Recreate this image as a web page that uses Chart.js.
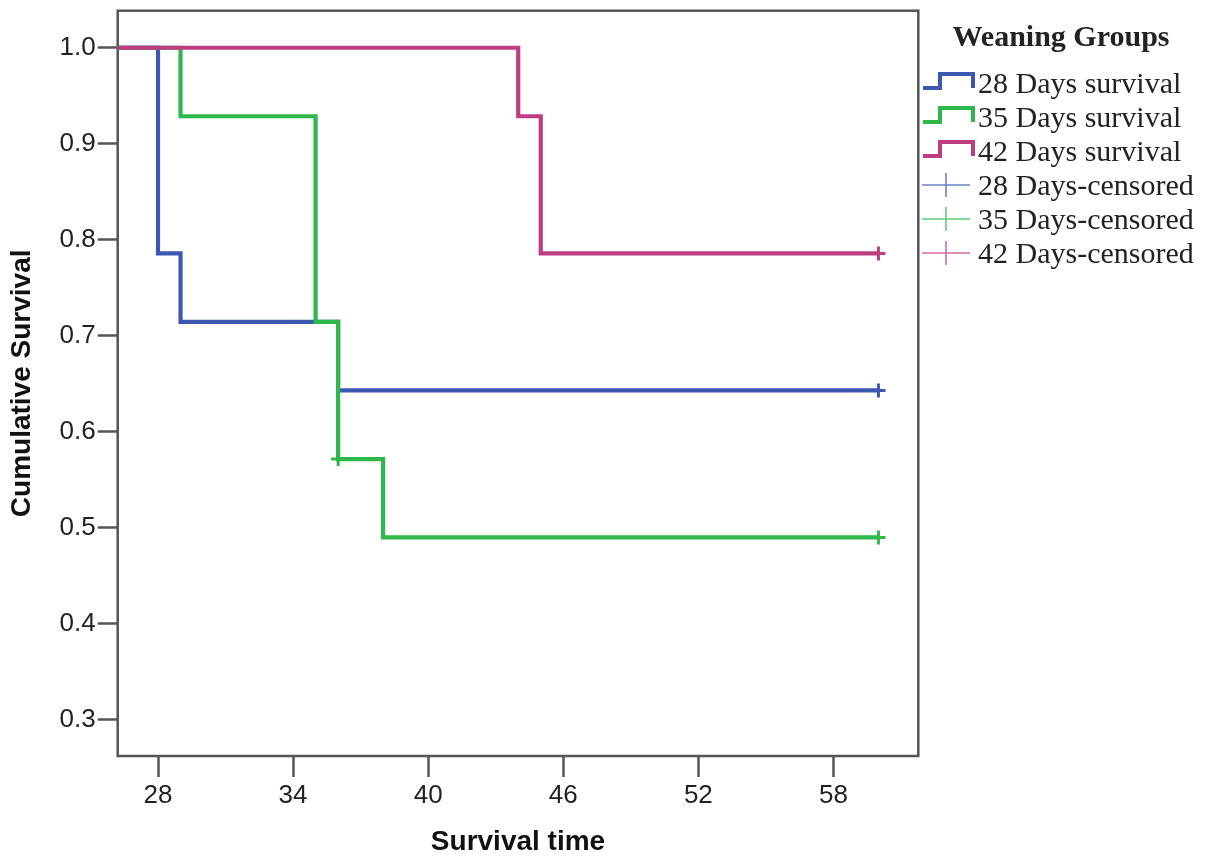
<!DOCTYPE html>
<html><head><meta charset="utf-8">
<script src="https://cdn.jsdelivr.net/npm/chart.js@4.4.1/dist/chart.umd.min.js"></script>
<style>html,body{margin:0;padding:0;background:#fff}#wrap{width:1217px;height:859px;position:relative}canvas{display:block}</style>
</head><body><div id="wrap"><canvas id="c" width="1217" height="859"></canvas></div>
<script>
// ---- data ----
const legendTitle = 'Weaning Groups';
const survivalLabels = ['28 Days survival', '35 Days survival', '42 Days survival'];
const censoredLabels = ['28 Days-censored', '35 Days-censored', '42 Days-censored'];
const times28 = [0, 28, 29, 36, 60];
const surv28 = [1.0, 0.7857, 0.7143, 0.6429, 0.6429];
const times35 = [0, 29, 35, 36, 38, 60];
const surv35 = [1.0, 0.9286, 0.7143, 0.5714, 0.4898, 0.4898];
const times42 = [0, 44, 45, 60];
const surv42 = [1.0, 0.9286, 0.7857, 0.7857];
const censTimes28 = [60];
const censSurv28 = [0.6429];
const censTimes35 = [36, 60];
const censSurv35 = [0.5714, 0.4898];
const censTimes42 = [60];
const censSurv42 = [0.7857];
const xTicks = [28, 34, 40, 46, 52, 58];
const yTicks = [0.3, 0.4, 0.5, 0.6, 0.7, 0.8, 0.9, 1.0];
const xTitle = 'Survival time';
const yTitle = 'Cumulative Survival';

// ---- styles ----
const colors = ['#3E58B2', '#2EB84C', '#BE3C80'];
const censColors = ['rgba(62,88,178,0.75)', 'rgba(46,184,76,0.75)', 'rgba(190,60,128,0.75)'];
const frameColor = '#555555';
const textColor = '#222222';

const pts = (xs, ys) => xs.map((x, i) => ({x: x, y: ys[i]}));

const survSets = [[times28, surv28], [times35, surv35], [times42, surv42]];
const censSets = [[censTimes28, censSurv28], [censTimes35, censSurv35], [censTimes42, censSurv42]];

const datasets = [];
survSets.forEach((s, i) => {
  datasets.push({
    label: survivalLabels[i], data: pts(s[0], s[1]), showLine: true, stepped: true,
    borderColor: colors[i], backgroundColor: colors[i], borderWidth: 4.2, pointRadius: 0,
    fill: false, clip: 0, order: 3 - i, borderJoinStyle: 'miter', borderCapStyle: 'butt'
  });
});
censSets.forEach((s, i) => {
  datasets.push({
    label: censoredLabels[i], data: pts(s[0], s[1]), showLine: false,
    pointStyle: 'cross', pointRadius: 7, pointBorderWidth: 3, pointHoverRadius: 7,
    borderColor: colors[i], backgroundColor: colors[i], order: 0
  });
});

const PLOT = {left: 117.7, right: 918.3, top: 10.7, bottom: 756};

const framePlugin = {
  id: 'frame',
  beforeDatasetsDraw(chart) {
    const a = chart.chartArea, ctx = chart.ctx;
    ctx.save();
    ctx.strokeStyle = frameColor; ctx.lineWidth = 2.5;
    ctx.strokeRect(a.left, a.top, a.right - a.left, a.bottom - a.top);
    ctx.restore();
  }
};

const legendPlugin = {
  id: 'customLegend',
  afterDraw(chart) {
    const ctx = chart.ctx;
    ctx.save();
    ctx.fillStyle = textColor;
    ctx.textBaseline = 'alphabetic';
    ctx.font = 'bold 30px "Liberation Serif", "Times New Roman", serif';
    ctx.textAlign = 'center';
    ctx.fillText(legendTitle, 1061, 46);
    ctx.textAlign = 'left';
    ctx.font = '30px "Liberation Serif", "Times New Roman", serif';
    const rowY = [83, 117, 151, 185, 219, 253];
    for (let i = 0; i < 3; i++) {
      const y = rowY[i];
      ctx.strokeStyle = colors[i]; ctx.lineWidth = 4; ctx.lineJoin = 'miter';
      ctx.beginPath();
      ctx.moveTo(923, y + 5); ctx.lineTo(940, y + 5); ctx.lineTo(940, y - 9);
      ctx.lineTo(973, y - 9); ctx.lineTo(973, y + 5);
      ctx.stroke();
      ctx.fillText(survivalLabels[i], 978, y + 10);
    }
    for (let i = 0; i < 3; i++) {
      const y = rowY[i + 3];
      ctx.strokeStyle = censColors[i]; ctx.lineWidth = 1.6;
      ctx.beginPath();
      ctx.moveTo(922, y); ctx.lineTo(970, y);
      ctx.moveTo(946, y - 12); ctx.lineTo(946, y + 12);
      ctx.stroke();
      ctx.fillText(censoredLabels[i], 978, y + 10);
    }
    ctx.restore();
  }
};

new Chart(document.getElementById('c'), {
  type: 'scatter',
  data: {datasets: datasets},
  options: {
    responsive: false, animation: false, devicePixelRatio: 1,
    layout: {padding: {top: PLOT.top, right: 1217 - PLOT.right, left: 0, bottom: 0}},
    plugins: {legend: {display: false}, tooltip: {enabled: false}},
    scales: {
      x: {
        type: 'linear', min: 26.21, max: 61.77,
        afterFit(s) { s.height = 859 - PLOT.bottom; s.paddingLeft = 0; s.paddingRight = 0; },
        afterBuildTicks(s) { s.ticks = xTicks.map(v => ({value: v})); },
        border: {display: false},
        grid: {display: true, drawOnChartArea: false, drawTicks: true, tickLength: 21, tickColor: frameColor, tickWidth: 2.5, color: frameColor},
        ticks: {color: textColor, padding: 3, maxRotation: 0, autoSkip: false,
          font: {family: '"Liberation Sans", Arial, sans-serif', size: 26},
          callback: v => String(v)},
        title: {display: true, text: xTitle, color: '#111', padding: {top: 0, bottom: 0},
          font: {family: '"Liberation Sans", Arial, sans-serif', size: 28, weight: 'bold'}}
      },
      y: {
        type: 'linear', min: 0.262, max: 1.0386,
        afterFit(s) { s.width = PLOT.left; s.paddingTop = 0; s.paddingBottom = 0; },
        afterBuildTicks(s) { s.ticks = yTicks.map(v => ({value: v})); },
        border: {display: false},
        grid: {display: true, drawOnChartArea: false, drawTicks: true, tickLength: 20, tickColor: frameColor, tickWidth: 2.5, color: frameColor},
        ticks: {color: textColor, padding: 2, autoSkip: false,
          font: {family: '"Liberation Sans", Arial, sans-serif', size: 26},
          callback: v => Number(v).toFixed(1)},
        title: {display: true, text: yTitle, color: '#111', padding: {top: 5, bottom: 0},
          font: {family: '"Liberation Sans", Arial, sans-serif', size: 28, weight: 'bold'}}
      }
    }
  },
  plugins: [framePlugin, legendPlugin]
});
</script>
</body></html>
